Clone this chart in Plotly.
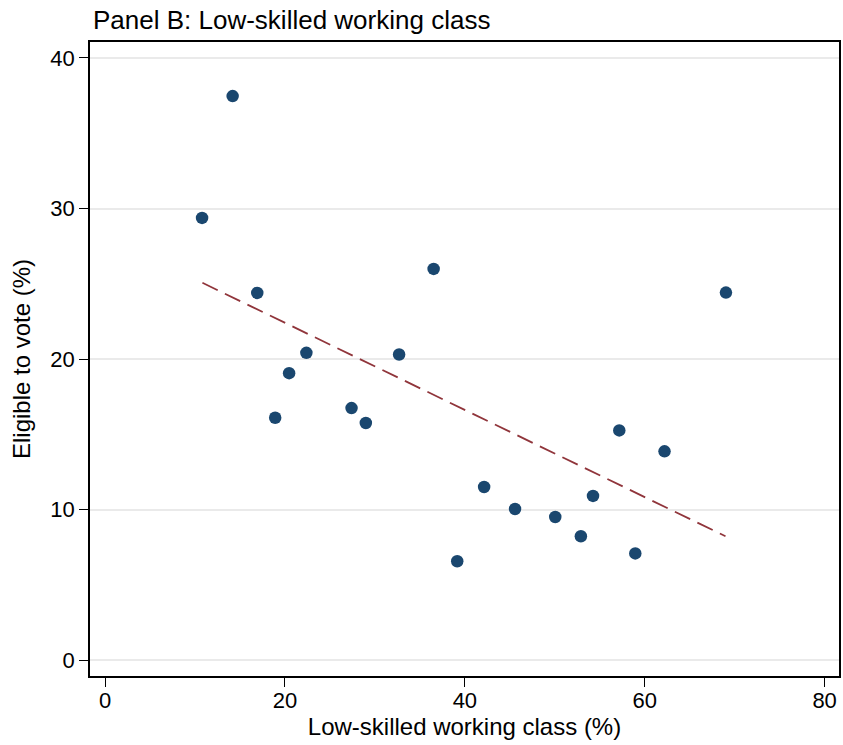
import plotly.graph_objects as go

# Data
low_skilled = [14.18, 10.78, 16.92, 36.53, 22.38, 32.69, 27.4, 28.99, 42.14, 45.58,
               50.05, 52.9, 39.15, 54.25, 69.03, 57.17, 62.2, 58.95, 18.91, 20.46]
eligible = [37.47, 29.38, 24.40, 25.99, 20.42, 20.31, 16.75, 15.76, 11.51, 10.05,
            9.52, 8.24, 6.58, 10.92, 24.42, 15.27, 13.88, 7.10, 16.11, 19.07]
# Fitted line endpoints
fit_x = [10.82, 68.98]
fit_y = [25.07, 8.24]
x_ticks = [0, 20, 40, 60, 80]
y_ticks = [0, 10, 20, 30, 40]

FONT = "Liberation Sans, Arial, sans-serif"

fig = go.Figure()
fig.add_trace(go.Scatter(
    x=fit_x, y=fit_y, mode="lines",
    line=dict(color="#90353B", width=1.8, dash="17px,8px"),
    showlegend=False, hoverinfo="skip"))
fig.add_trace(go.Scatter(
    x=low_skilled, y=eligible, mode="markers",
    marker=dict(color="#1A476F", size=12.5, line=dict(width=0)),
    showlegend=False))

fig.update_layout(
    width=843, height=745,
    margin=dict(l=90, r=2, t=42, b=69),
    paper_bgcolor="white", plot_bgcolor="white",
    font=dict(family=FONT, color="black", size=22),
    title=dict(text="Panel B: Low-skilled working class", x=93/843, xref="container",
               xanchor="left", y=1-20/745, yref="container", yanchor="middle",
               font=dict(size=26, family=FONT, color="black")),
    xaxis=dict(range=[-1.68, 81.6], tickvals=x_ticks, ticks="outside", ticklen=9,
               tickwidth=1.2, tickcolor="black", showgrid=False, zeroline=False,
               showline=True, linecolor="black", linewidth=1.5, mirror=True,
               tickfont=dict(size=22), ticklabelstandoff=-5,
               title=dict(text="Low-skilled working class (%)", font=dict(size=24), standoff=0)),
    yaxis=dict(range=[-1.04, 41.06], tickvals=y_ticks, ticks="outside", ticklen=9,
               tickwidth=1.2, tickcolor="black", showgrid=True, gridcolor="#EAEAEA",
               gridwidth=1.5, zeroline=False,
               showline=True, linecolor="black", linewidth=1.5, mirror=True,
               tickfont=dict(size=22),
               title=dict(text="Eligible to vote (%)", font=dict(size=24), standoff=13)),
)

fig.write_html("out.html", config={"displayModeBar": False},
               post_script="document.body.style.margin='0';")
